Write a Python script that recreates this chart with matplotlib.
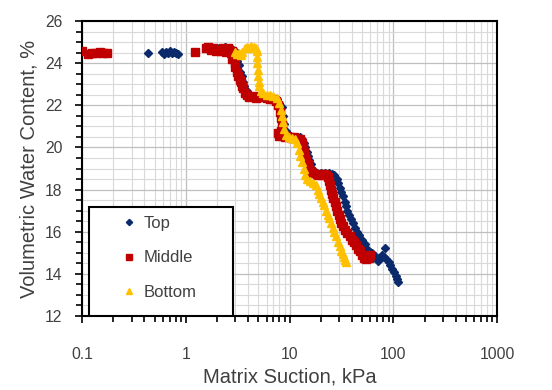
import numpy as np
import matplotlib
matplotlib.use("Agg")
import matplotlib.pyplot as plt
from matplotlib.ticker import LogLocator, NullFormatter, FixedLocator, FixedFormatter, MultipleLocator
from matplotlib.patches import Rectangle

plt.rcParams["font.family"] = ["Liberation Sans", "DejaVu Sans"]

NAVY, RED, GOLD = "#0b2a6b", "#c00000", "#ffc000"
TXT = "#404040"

# ---- data (suction kPa, water content %) ----
top_x = [0.43, 0.59, 0.62, 0.65, 0.68, 0.71, 0.74, 0.77, 0.80, 0.84,
         2.1, 2.4, 2.7, 2.95, 3.05, 3.15, 3.25, 3.35, 3.45, 3.55, 3.65, 3.85,
         4.1, 4.6, 5.2, 6.0, 6.8, 7.5, 8.0, 8.4, 8.7, 8.9, 9.2, 9.6,
         10.5, 11.5, 12.5, 13.2, 13.8, 14.2, 14.6, 15.0, 15.5, 16.0, 16.5,
         17.2, 18.5, 20, 22, 24, 25.7, 27, 28.5, 29.5, 30.5, 31.5, 32.8,
         34, 35, 36, 37.5, 39, 40.5, 42.5, 45, 47, 50, 53, 56, 60, 63, 66,
         69, 72, 75, 78, 83, 82, 86, 90, 94, 98, 102, 106, 109, 111]
top_y = [24.5, 24.55, 24.45, 24.55, 24.5, 24.6, 24.5, 24.55, 24.5, 24.45,
         24.7, 24.75, 24.7, 24.6, 24.4, 24.1, 23.9, 23.6, 23.4, 23.1, 22.9, 22.7,
         22.5, 22.45, 22.4, 22.4, 22.35, 22.3, 22.1, 21.9, 21.5, 21.1, 20.8, 20.6,
         20.5, 20.5, 20.5, 20.4, 20.2, 20.0, 19.8, 19.6, 19.4, 19.2, 19.0,
         18.9, 18.8, 18.8, 18.8, 18.8, 18.75, 18.7, 18.5, 18.3, 18.1, 17.9, 17.7,
         17.4, 17.2, 17.0, 16.8, 16.6, 16.4, 16.2, 16.0, 15.85, 15.6, 15.4, 15.2, 15.05, 15.0, 14.85,
         14.75, 14.6, 14.75, 14.9, 15.25, 14.8, 14.7, 14.55, 14.4, 14.25, 14.1, 13.9, 13.75, 13.6]

mid_x = [0.1, 0.115, 0.125, 0.135, 0.15, 0.16, 0.175,
         1.23, 1.57, 1.65, 1.75, 1.85, 1.95, 2.05, 2.2, 2.3, 2.45, 2.55, 2.7, 2.8,
         2.9, 2.8, 2.95, 3.0, 3.1, 3.2, 3.3, 3.4, 3.5, 3.6, 3.75, 3.9,
         4.1, 4.4, 4.7, 5.0, 5.5, 6.0, 6.5, 7.0, 7.4, 7.8, 8.1, 8.3, 8.5,
         8.2, 7.8, 8.0, 8.6, 9.0, 9.5, 10, 10.5, 11, 11.8, 12.5, 13.2, 13.5,
         13.8, 14.1, 14.5, 15.0, 15.5, 16.2, 17.0, 18.5, 19.5, 20.5, 21.5, 22.5,
         23.5, 24, 24.5, 25, 25.8, 26.5, 27.2, 28, 29, 29.8, 30.5, 31.5, 33,
         34.5, 36, 38, 40, 42, 44, 46, 48, 50, 52, 55, 58, 60]
mid_y = [24.6, 24.45, 24.5, 24.5, 24.55, 24.5, 24.5,
         24.55, 24.7, 24.75, 24.65, 24.7, 24.6, 24.65, 24.6, 24.7, 24.55, 24.7, 24.5, 24.6,
         24.3, 24.2, 24.0, 23.8, 23.6, 23.4, 23.2, 23.1, 22.9, 22.8, 22.6, 22.5,
         22.4, 22.45, 22.35, 22.4, 22.4, 22.35, 22.3, 22.3, 22.2, 22.0, 21.7, 21.4, 21.1,
         20.8, 20.7, 20.55, 20.6, 20.5, 20.55, 20.5, 20.45, 20.5, 20.4, 20.4, 20.2, 20.0,
         19.8, 19.6, 19.4, 19.2, 19.0, 18.9, 18.8, 18.7, 18.75, 18.7, 18.75, 18.7,
         18.6, 18.4, 18.2, 18.0, 17.8, 17.6, 17.4, 17.2, 17.0, 16.8, 16.6, 16.4, 16.25,
         16.1, 15.95, 15.8, 15.6, 15.5, 15.35, 15.2, 15.1, 14.9, 14.75, 14.7, 14.75, 14.9]

bot_x = [2.95, 3.1, 3.25, 3.4, 3.5, 3.7, 3.9, 4.1, 4.3, 4.5, 4.7, 4.9,
         4.85, 4.9, 4.95, 5.0, 5.05, 5.1, 5.3, 5.6, 6.0, 6.5, 7.0, 7.5,
         7.9, 8.2, 8.5, 8.7, 8.9, 9.3, 9.8, 10.5, 11.2, 11.9, 12.3, 12.7,
         13.2, 13.7, 14.2, 14.7, 15.7, 17, 18.1, 19, 19.4, 20, 20.8, 21.6,
         22.5, 23.3, 24, 25, 26, 27, 28, 29.5, 30.5, 31.5, 32.5, 33.5, 34.5, 35]
bot_y = [24.55, 24.45, 24.5, 24.4, 24.55, 24.7, 24.75, 24.7, 24.8, 24.75, 24.7, 24.6,
         24.3, 24.0, 23.7, 23.4, 23.1, 22.9, 22.7, 22.6, 22.5, 22.5, 22.45, 22.35,
         22.1, 21.8, 21.5, 21.2, 20.9, 20.6, 20.5, 20.45, 20.4, 20.2, 19.9, 19.6,
         19.3, 19.0, 18.7, 18.5, 18.4, 18.3, 18.2, 18.0, 17.8, 17.6, 17.4, 17.25,
         17.0, 16.8, 16.65, 16.4, 16.2, 16.0, 15.8, 15.5, 15.3, 15.1, 14.95, 14.8, 14.65, 14.55]

x_ticks = [0.1, 1, 10, 100, 1000]
x_labels = ["0.1", "1", "10", "100", "1000"]
y_ticks = [12, 14, 16, 18, 20, 22, 24, 26]

fig = plt.figure(figsize=(5.52, 3.9), dpi=100)
ax = fig.add_axes([0.1486, 0.1897, 0.7518, 0.7563])

ax.plot(top_x, top_y, "D", ls="none", ms=4.2, color=NAVY, mec=NAVY, label="Top", zorder=3)
ax.plot(mid_x, mid_y, "s", ls="none", ms=5.2, color=RED, mec=RED, label="Middle", zorder=4)
ax.plot(bot_x, bot_y, "^", ls="none", ms=6.0, color=GOLD, mec=GOLD, label="Bottom", zorder=5)

ax.set_xscale("log")
ax.set_xlim(0.1, 1000)
ax.set_ylim(12, 26)
ax.xaxis.set_major_locator(FixedLocator(x_ticks))
ax.xaxis.set_major_formatter(FixedFormatter(x_labels))
ax.xaxis.set_minor_locator(LogLocator(base=10, subs=np.arange(2, 10)))
ax.xaxis.set_minor_formatter(NullFormatter())
ax.yaxis.set_major_locator(FixedLocator(y_ticks))
ax.yaxis.set_minor_locator(MultipleLocator(0.5))

ax.grid(which="major", color="#bfbfbf", lw=0.9, zorder=0)
ax.grid(which="minor", color="#d9d9d9", lw=0.8, zorder=0)
ax.set_axisbelow(True)

for s in ax.spines.values():
    s.set_linewidth(1.5)
    s.set_color("black")
ax.tick_params(which="both", direction="out", color="black", width=1.2,
               labelsize=11.3, labelcolor=TXT)
ax.tick_params(which="major", length=5)
ax.tick_params(which="minor", length=4)
ax.tick_params(axis="x", which="major", pad=17)
ax.tick_params(axis="y", which="major", pad=9)

ax.set_xlabel("Matrix Suction, kPa", fontsize=14.5, color=TXT, labelpad=4.5)
ax.set_ylabel("Volumetric Water Content, %", fontsize=14.5, color=TXT, labelpad=5)

# legend box (frame drawn separately so it can sit on the x axis)
ax.add_patch(Rectangle((0.0169, 0.0), 0.347, 0.3695, transform=ax.transAxes,
                       facecolor="white", edgecolor="black", lw=1.5, zorder=6))
leg = ax.legend(loc="upper left", bbox_to_anchor=(0.085, 0.338), frameon=False,
                fontsize=12, borderpad=0, handlelength=1.4, handletextpad=0.15,
                labelspacing=1.15, numpoints=1, borderaxespad=0)
leg.set_zorder(7)
for t in leg.get_texts():
    t.set_color(TXT)
for h, m in zip(leg.legend_handles, [3.2, 4.0, 4.4]):
    h.set_markersize(m)

fig.savefig("out.png", dpi=100)
